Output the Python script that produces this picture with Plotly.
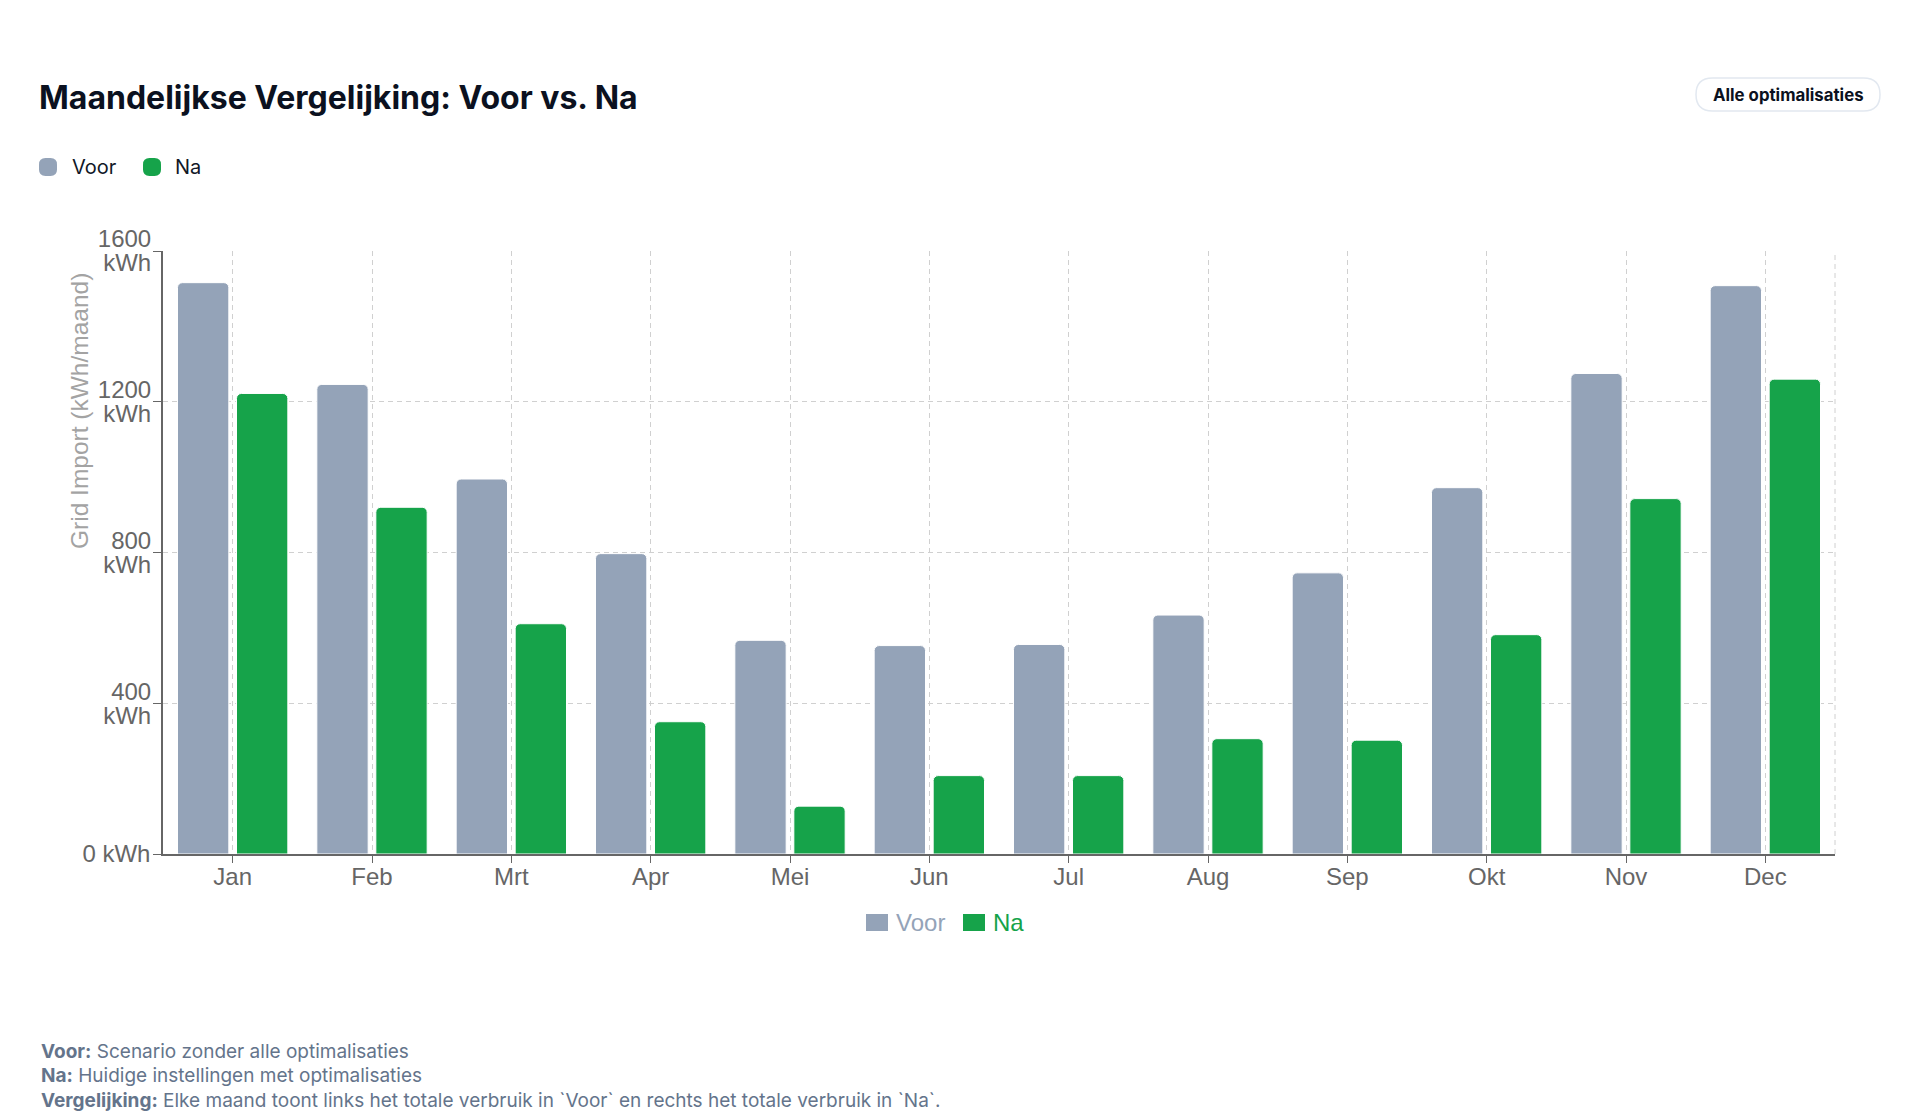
import plotly.graph_objects as go

# ---------------- data ----------------
months = ["Jan", "Feb", "Mrt", "Apr", "Mei", "Jun", "Jul", "Aug", "Sep", "Okt", "Nov", "Dec"]
voor = [1516, 1246, 995, 797, 567, 553, 556, 634, 746, 972, 1275, 1508]
na = [1222, 920, 611, 351, 127, 208, 208, 306, 302, 582, 943, 1260]
y_ticks = [0, 400, 800, 1200, 1600]
y_tick_num = ["", "400", "800", "1200", "1600"]
y_tick_unit = ["", "kWh", "kWh", "kWh", "kWh"]
y_tick_zero = ["0 kWh", "", "", "", ""]

VOOR_COLOR = "#94a3b8"
NA_COLOR = "#16a34a"

# ---------------- layout geometry (pixels) ----------------
WIDTH, HEIGHT = 1920, 1115
L, R, T, B = 163, 1835, 251, 854
PW, PH = R - L, B - T


def px(x):
    return (x - L) / PW


def py(y):
    return (B - y) / PH


def rrect(x0, y0, x1, y1, r):
    pts = [
        f"M {px(x0 + r)} {py(y0)}",
        f"L {px(x1 - r)} {py(y0)}",
        f"Q {px(x1)} {py(y0)} {px(x1)} {py(y0 + r)}",
        f"L {px(x1)} {py(y1 - r)}",
        f"Q {px(x1)} {py(y1)} {px(x1 - r)} {py(y1)}",
        f"L {px(x0 + r)} {py(y1)}",
        f"Q {px(x0)} {py(y1)} {px(x0)} {py(y1 - r)}",
        f"L {px(x0)} {py(y0 + r)}",
        f"Q {px(x0)} {py(y0)} {px(x0 + r)} {py(y0)}",
        "Z",
    ]
    return " ".join(pts)


fig = go.Figure()
fig.add_trace(go.Bar(
    x=months, y=voor, name="Voor",
    marker=dict(color=VOOR_COLOR, cornerradius=5, line=dict(color="white", width=1)),
    showlegend=False,
))
fig.add_trace(go.Bar(
    x=months, y=na, name="Na",
    marker=dict(color=NA_COLOR, cornerradius=5, line=dict(color="white", width=1)),
    showlegend=False,
))

TICK_FONT = dict(family="Liberation Sans, Arial, sans-serif", size=24, color="#666666")
UI_FONT = "Inter, Noto Sans, sans-serif"
GRID = "#d0d0d0"
DASH = "5px,4px"

shapes = []
annotations = []

# right dashed border of plot area
shapes.append(dict(type="line", xref="paper", yref="paper", x0=1, x1=1, y0=0, y1=1,
                   line=dict(color=GRID, width=1, dash=DASH), layer="below"))

# title
annotations.append(dict(
    text="<b>Maandelijkse Vergelijking: Voor vs. Na</b>", xref="paper", yref="paper",
    x=px(37), y=py(97), xanchor="left", yanchor="middle", showarrow=False,
    font=dict(family=UI_FONT, size=32, color="#0b1120"),
))

# button pill
shapes.append(dict(type="path", xref="paper", yref="paper",
                   path=rrect(1696, 78, 1880, 111, 16.5),
                   line=dict(color="#e2e8f0", width=1.5), fillcolor="white"))
annotations.append(dict(
    text="<b>Alle optimalisaties</b>", xref="paper", yref="paper",
    x=px(1788), y=py(95), xanchor="center", yanchor="middle", showarrow=False,
    font=dict(family=UI_FONT, size=16.8, color="#0b1120"),
))

# top legend
for (x0, label, tx, col) in [(39, "Voor", 70, VOOR_COLOR), (143, "Na", 173, NA_COLOR)]:
    shapes.append(dict(type="path", xref="paper", yref="paper",
                       path=rrect(x0, 158, x0 + 18, 176, 6.5),
                       line=dict(width=0), fillcolor=col))
    annotations.append(dict(
        text=label, xref="paper", yref="paper", x=px(tx), y=py(167),
        xanchor="left", yanchor="middle", showarrow=False,
        font=dict(family=UI_FONT, size=20, color="#111827"),
    ))

# bottom legend
for (x0, label, tx, col) in [(866, "Voor", 894, VOOR_COLOR), (963, "Na", 991, NA_COLOR)]:
    shapes.append(dict(type="rect", xref="paper", yref="paper",
                       x0=px(x0), x1=px(x0 + 22), y0=py(931), y1=py(914),
                       line=dict(width=0), fillcolor=col))
    annotations.append(dict(
        text=label, xref="paper", yref="paper", x=px(tx), y=py(922),
        xanchor="left", yanchor="middle", showarrow=False,
        font=dict(family="Liberation Sans, Arial, sans-serif", size=24, color=col),
    ))

# y-axis title
annotations.append(dict(
    text="Grid Import (kWh/maand)", xref="paper", yref="paper",
    x=px(79), y=py(411), xanchor="center", yanchor="middle", textangle=-90,
    showarrow=False,
    font=dict(family="Liberation Sans, Arial, sans-serif", size=24.5, color="#a3a3a3"),
))

# footnotes
notes = [
    "<b>Voor:</b> Scenario zonder alle optimalisaties",
    "<b>Na:</b> Huidige instellingen met optimalisaties",
    "<b>Vergelijking:</b> Elke maand toont links het totale verbruik in `Voor` en rechts het totale verbruik in `Na`.",
]
for i, note in enumerate(notes):
    annotations.append(dict(
        text=note, xref="paper", yref="paper", x=px(39), y=py(1051 + 24.5 * i),
        xanchor="left", yanchor="middle", showarrow=False,
        font=dict(family=UI_FONT, size=19, color="#64748b"),
    ))

common_y = dict(
    range=[0, 1600], tickvals=y_ticks, tickfont=TICK_FONT,
    ticks="outside", ticklen=8, tickwidth=1, ticklabelstandoff=-2,
    zeroline=False, fixedrange=True,
)

fig.update_layout(
    width=WIDTH, height=HEIGHT,
    margin=dict(l=L, r=WIDTH - R, t=T, b=HEIGHT - B, autoexpand=False),
    paper_bgcolor="white", plot_bgcolor="white",
    barmode="group", bargap=0.153, bargroupgap=0.13,
    showlegend=False,
    shapes=shapes, annotations=annotations,
    xaxis=dict(
        range=[-0.5, len(months) - 0.5],
        showgrid=True, gridcolor=GRID, griddash=DASH, gridwidth=1,
        showline=True, linecolor="#666666", linewidth=1.5,
        ticks="outside", ticklen=7, tickcolor="#666666", tickwidth=1,
        ticklabelstandoff=-7,
        tickfont=TICK_FONT, fixedrange=True,
    ),
    yaxis=dict(
        **common_y, ticktext=y_tick_zero,
        showgrid=True, gridcolor=GRID, griddash=DASH, gridwidth=1,
        showline=True, linecolor="#666666", linewidth=1.5, tickcolor="#666666",
    ),
    yaxis2=dict(
        **common_y, ticktext=y_tick_num, overlaying="y", side="left",
        showgrid=False, showline=False, tickcolor="rgba(0,0,0,0)",
        ticklabelshift=-12,
    ),
    yaxis3=dict(
        **common_y, ticktext=y_tick_unit, overlaying="y", side="left",
        showgrid=False, showline=False, tickcolor="rgba(0,0,0,0)",
        ticklabelshift=12,
    ),
)

# invisible helper traces so the overlaying tick-label axes are rendered
fig.add_trace(go.Scatter(x=[months[0]], y=[0], yaxis="y2", mode="markers",
                         marker=dict(opacity=0), hoverinfo="skip", showlegend=False))
fig.add_trace(go.Scatter(x=[months[0]], y=[0], yaxis="y3", mode="markers",
                         marker=dict(opacity=0), hoverinfo="skip", showlegend=False))

fig.write_html("out.html", config={"displayModeBar": False})
